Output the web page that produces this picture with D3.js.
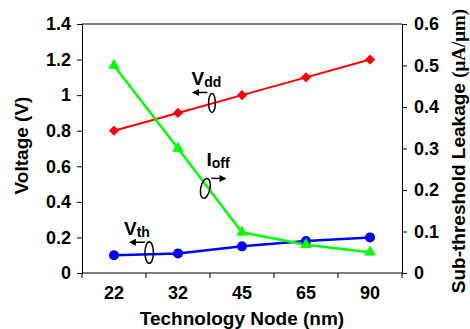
<!DOCTYPE html>
<html><head><meta charset="utf-8">
<script src="https://cdn.jsdelivr.net/npm/d3@7"></script>
<style>
html,body{margin:0;padding:0;background:#fff;}
svg{display:block;}
text{font-family:"Liberation Sans",Arial,sans-serif;font-weight:bold;fill:#000;}
</style></head>
<body>
<svg id="chart" width="470" height="329"></svg>
<script>
const categories = ["22","32","45","65","90"];
const vddValues  = [0.8, 0.9, 1.0, 1.1, 1.2];
const vthValues  = [0.1, 0.11, 0.15, 0.18, 0.2];
const ioffValues = [0.5, 0.3, 0.098, 0.068, 0.05];
const leftTicks  = [0, 0.2, 0.4, 0.6, 0.8, 1, 1.2, 1.4];
const rightTicks = [0, 0.1, 0.2, 0.3, 0.4, 0.5, 0.6];

const W = 470, H = 329;
const m = {l: 82, r: 68, t: 24, b: 56};
const svg = d3.select("#chart");

const x = d3.scaleBand().domain(categories).range([m.l, W - m.r]).padding(0);
const y = d3.scaleLinear().domain([0, 1.4]).range([H - m.b, m.t]);
const y2 = d3.scaleLinear().domain([0, 0.6]).range([H - m.b, m.t]);
const bw = x.bandwidth();
const cx = d => x(d) + bw / 2;
const ax = i => x(categories[0]) + bw / 2 + i * bw;

const fs = 18;

// frame top
svg.append("line").attr("x1", m.l).attr("x2", W - m.r).attr("y1", m.t).attr("y2", m.t)
  .attr("stroke", "#000").attr("stroke-width", 1);

// left axis
const gl = svg.append("g").attr("transform", `translate(${m.l},0)`)
  .call(d3.axisLeft(y).tickValues(leftTicks).tickSize(5).tickPadding(6).tickFormat(d3.format("~g")));
// right axis
const gr = svg.append("g").attr("transform", `translate(${W - m.r},0)`)
  .call(d3.axisRight(y2).tickValues(rightTicks).tickSize(5).tickPadding(7).tickFormat(d3.format("~g")));
// bottom axis (labels)
const gb = svg.append("g").attr("transform", `translate(0,${H - m.b})`)
  .call(d3.axisBottom(x).tickSize(0).tickPadding(13));
[gl, gr, gb].forEach(g => {
  g.select(".domain").attr("stroke", "#000").attr("stroke-width", 1);
  g.selectAll(".tick line").attr("stroke", "#000");
  g.selectAll("text").attr("font-size", fs).attr("font-family", '"Liberation Sans",Arial,sans-serif')
    .attr("font-weight", "bold").attr("fill", "#000");
});
gb.select(".domain").attr("d", `M${m.l},0H${W - m.r}`);
// band boundary ticks
const bounds = categories.map(c => x(c)).concat([x(categories[categories.length - 1]) + bw]);
svg.append("g").selectAll("line").data(bounds).join("line")
  .attr("x1", d => d).attr("x2", d => d)
  .attr("y1", H - m.b).attr("y2", H - m.b + 5)
  .attr("stroke", "#000");

// axis titles
svg.append("text").attr("x", (m.l + W - m.r) / 2).attr("y", 325)
  .attr("text-anchor", "middle").attr("font-size", 19).text("Technology Node (nm)");
svg.append("text").attr("transform", `translate(28,${(m.t + H - m.b) / 2 - 3}) rotate(-90)`)
  .attr("text-anchor", "middle").attr("font-size", 19).text("Voltage (V)");
const rt = svg.append("text").attr("transform", `translate(465,${151}) rotate(-90)`)
  .attr("text-anchor", "middle").attr("font-size", 19);
rt.append("tspan").text("Sub-threshold Leakage ");
rt.append("tspan").attr("font-family", '"Liberation Serif","Times New Roman",serif').text("(\u03bcA/\u03bcm)");

// series
const series = [
  {vals: vddValues, scale: y, color: "#ff0000", width: 2, sym: "diamond"},
  {vals: vthValues, scale: y, color: "#0000ff", width: 2.5, sym: "circle"},
  {vals: ioffValues, scale: y2, color: "#00ff00", width: 2.5, sym: "triangle"}
];
series.forEach(s => {
  const pts = categories.map((c, i) => [cx(c), s.scale(s.vals[i])]);
  svg.append("path").attr("d", d3.line()(pts)).attr("fill", "none")
    .attr("stroke", s.color).attr("stroke-width", s.width);
});
series.forEach(s => {
  const g = svg.append("g");
  categories.forEach((c, i) => {
    const px = cx(c), py = s.scale(s.vals[i]);
    let sym, rot = 0, size;
    if (s.sym === "diamond") { sym = d3.symbolSquare; rot = 45; size = 52; }
    else if (s.sym === "circle") { sym = d3.symbolCircle; size = 80; }
    else { sym = d3.symbolTriangle; size = 58; }
    g.append("path").attr("d", d3.symbol().type(sym).size(size)())
      .attr("transform", `translate(${px},${py}) rotate(${rot})`)
      .attr("fill", s.color);
  });
});

// annotations (positions in category-index / value units)
const annotations = [
  {main: "V", sub: "dd", ti: 1.211, tv: 1.057, av: 1.015, a1: 1.461, a2: 1.219, ei: 1.531, ev: 0.956, rx: 3.4, ry: 9.5, rot: 0},
  {main: "I", sub: "off", ti: 1.445, tv: 0.602, av: 0.532, a1: 1.523, a2: 1.758, ei: 1.427, ev: 0.476, rx: 4.6, ry: 10, rot: 12},
  {main: "V", sub: "th", ti: 0.156, tv: 0.214, av: 0.173, a1: 0.484, a2: 0.234, ei: 0.55, ev: 0.115, rx: 4.2, ry: 10.8, rot: 0}
];
annotations.forEach(a => {
  const t = svg.append("text").attr("x", ax(a.ti)).attr("y", y(a.tv)).attr("font-size", 19);
  t.append("tspan").text(a.main);
  t.append("tspan").attr("font-size", 14).attr("dy", 2).text(a.sub);
  const x1 = ax(a.a1), x2 = ax(a.a2), yy = y(a.av);
  const dir = Math.sign(x2 - x1);
  const head = 7;
  svg.append("line").attr("x1", x1).attr("x2", x2 - dir * head).attr("y1", yy).attr("y2", yy)
    .attr("stroke", "#000").attr("stroke-width", 1.5);
  svg.append("path").attr("d", `M${x2},${yy}L${x2 - dir * head},${yy - 3.5}L${x2 - dir * head},${yy + 3.5}Z`)
    .attr("fill", "#000");
  svg.append("ellipse").attr("cx", 0).attr("cy", 0).attr("rx", a.rx).attr("ry", a.ry)
    .attr("transform", `translate(${ax(a.ei)},${y(a.ev)}) rotate(${a.rot})`)
    .attr("fill", "none").attr("stroke", "#000").attr("stroke-width", 1.5);
});
</script>
</body></html>
